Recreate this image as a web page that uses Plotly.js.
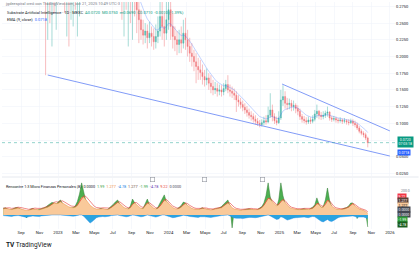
<!DOCTYPE html>
<html><head><meta charset="utf-8">
<script src="https://cdn.plot.ly/plotly-3.0.1.min.js"></script>
<style>html,body{margin:0;padding:0;background:#fff;}#chart{width:420px;height:253px;}</style>
</head><body><div id="chart"></div>
<script>
// ---------- DATA ----------
const priceStartWeek = '2022-11-21';
const priceOpen = [.330,.300,.315,.305,.330,.310,.335,.345,.330,.320,.305,.325,.300,.310,.320,.315,.330,.340,.355,.350,
.365,.380,.370,.360,.375,.390,.370,.355,.345,.360,.350,.340,.335,.345,.330,.320,.315,.300,.310,.295,
.305,.290,.300,.285,.270,.255,.240,.232,.238,.228,.235,.230,.222,.230,.238,.260,.245,.235,.255,.270,
.245,.230,.225,.218,.225,.220,.235,.225,.215,.205,.200,.192,.185,.180,.176,.170,.165,.168,.160,.155,
.150,.152,.148,.150,.147,.152,.158,.150,.148,.145,.142,.135,.132,.128,.124,.120,.116,.112,.110,.106,
.103,.100,.098,.101,.104,.102,.112,.120,.110,.104,.101,.108,.135,.140,.130,.128,.130,.125,.127,.122,
.118,.110,.106,.104,.102,.105,.103,.106,.114,.118,.112,.110,.112,.115,.117,.108,.106,.107,.105,.104,
.105,.103,.104,.102,.101,.103,.100,.098,.093,.088,.085,.083,.078];
const priceHigh = [.380,.340,.345,.360,.370,.360,.380,.375,.360,.345,.350,.345,.340,.350,.355,.360,.370,.380,.390,.395,
.410,.420,.400,.405,.430,.420,.395,.380,.390,.385,.375,.370,.375,.365,.355,.350,.340,.345,.335,.340,
.330,.335,.320,.310,.295,.270,.255,.250,.248,.252,.245,.242,.248,.260,.290,.300,.265,.295,.310,.300,
.265,.245,.238,.240,.245,.255,.258,.240,.228,.220,.210,.205,.198,.195,.188,.180,.182,.175,.172,.165,
.162,.160,.158,.157,.160,.165,.172,.158,.155,.152,.148,.142,.138,.134,.130,.126,.122,.118,.115,.112,
.108,.105,.106,.110,.112,.125,.145,.128,.115,.110,.118,.150,.157,.148,.138,.137,.135,.134,.130,.127,
.122,.114,.111,.109,.110,.109,.112,.120,.128,.120,.117,.118,.119,.125,.118,.111,.111,.110,.108,.109,
.107,.108,.106,.106,.107,.106,.104,.101,.096,.091,.088,.086,.080];
const priceLow = [.172,.225,.250,.215,.265,.240,.300,.295,.290,.265,.230,.215,.255,.245,.270,.230,.260,.310,.320,.325,
.340,.345,.330,.335,.350,.340,.325,.315,.320,.315,.305,.300,.305,.295,.292,.288,.255,.230,.270,.215,
.250,.225,.260,.235,.220,.225,.218,.220,.212,.220,.215,.210,.212,.220,.230,.225,.215,.225,.240,.225,
.212,.208,.202,.205,.205,.212,.210,.200,.192,.185,.178,.160,.165,.165,.158,.155,.157,.150,.145,.142,
.144,.140,.142,.140,.142,.148,.145,.140,.138,.135,.117,.125,.122,.118,.114,.110,.107,.104,.101,.098,
.096,.094,.095,.097,.098,.100,.108,.103,.099,.097,.099,.105,.126,.122,.120,.121,.118,.119,.115,.112,
.105,.101,.100,.098,.099,.099,.100,.103,.108,.106,.105,.106,.108,.110,.104,.102,.103,.101,.100,.101,
.099,.100,.098,.097,.099,.096,.094,.090,.085,.082,.079,.075,.064];
const priceClose = [.300,.315,.305,.330,.310,.335,.345,.330,.320,.305,.325,.300,.310,.320,.315,.330,.340,.355,.350,.365,
.380,.370,.360,.375,.390,.370,.355,.345,.360,.350,.340,.335,.345,.330,.320,.315,.300,.310,.295,.305,
.290,.300,.285,.270,.255,.240,.232,.238,.228,.235,.230,.222,.230,.238,.260,.245,.235,.255,.270,.245,
.230,.225,.218,.225,.220,.235,.225,.215,.205,.200,.192,.185,.180,.176,.170,.165,.168,.160,.155,.150,
.152,.148,.150,.147,.152,.158,.150,.148,.145,.142,.135,.132,.128,.124,.120,.116,.112,.110,.106,.103,
.100,.098,.101,.104,.102,.112,.120,.110,.104,.101,.108,.135,.140,.130,.128,.130,.125,.127,.122,.118,
.110,.106,.104,.102,.105,.103,.106,.114,.118,.112,.110,.112,.115,.117,.108,.106,.107,.105,.104,.105,
.103,.104,.102,.101,.103,.100,.098,.093,.088,.085,.083,.078,.071];

const oscStartWeek = '2022-07-04';
const oscGreen = [2.2,2.4,2.0,1.7,1.8,2.3,2.5,2.4,1.9,1.6,1.4,
-1.0,1.4,2.0,2.2,1.7,1.6,1.8,2.2,2.4,2.6,
3.2,3.6,4.2,4.0,3.6,4.4,5.0,3.8,3.0,2.6,
2.4,2.2,2.5,3.0,4.5,7.0,10.7,7.2,4.6,3.2,
2.4,2.0,1.8,1.8,1.9,2.2,2.0,1.7,1.7,2.3,
2.8,3.6,4.4,5.0,3.6,2.6,2.2,1.9,2.0,3.0,
5.3,4.2,2.8,2.2,1.9,2.2,4.0,5.3,3.4,2.4,
1.8,1.9,2.6,4.0,5.6,6.7,4.4,3.2,2.4,2.0,
1.8,1.9,2.6,3.2,4.3,4.0,2.8,2.2,1.9,1.8,
1.7,1.6,2.1,2.4,1.9,1.7,1.6,1.5,1.8,2.1,
2.2,2.4,2.8,3.6,4.4,5.0,3.0,-4.3,1.6,1.5,
1.5,1.4,1.6,1.8,2.0,2.1,1.8,1.6,1.5,1.8,
2.2,2.8,4.0,6.5,10.7,6.0,4.0,3.2,2.6,5.0,
10.7,6.4,3.8,2.8,2.2,1.9,1.8,1.7,1.6,1.7,
2.0,2.1,1.8,1.6,2.2,2.6,3.4,5.7,3.6,2.4,
2.8,5.0,9.0,4.8,2.6,-1.5,1.8,1.7,1.6,2.0,
2.2,2.5,3.0,4.0,4.0,2.4,-1.2,1.8,1.5,1.2,0.8,-4.0];
const oscOrange = [2.0,2.2,2.1,1.9,1.8,2.0,2.2,2.3,2.1,1.9,1.7,
1.5,1.6,1.8,2.0,1.9,1.8,1.7,1.9,2.1,2.3,
2.6,3.0,3.6,4.0,3.8,3.9,4.4,4.0,3.4,3.0,
2.7,2.5,2.4,2.6,3.2,4.5,5.8,6.0,5.2,4.2,
3.2,2.6,2.2,2.0,1.9,2.0,2.1,1.9,1.8,2.0,
2.4,3.0,3.6,4.2,3.8,3.0,2.5,2.2,2.0,2.4,
3.6,4.0,3.4,2.6,2.2,2.1,3.2,4.0,3.6,2.8,
2.3,2.0,2.2,3.0,4.2,5.0,4.6,3.8,3.0,2.5,
2.1,2.0,2.2,2.6,3.4,3.8,3.2,2.6,2.2,2.0,
1.9,1.8,2.0,2.2,2.1,1.9,1.8,1.7,1.8,2.0,
2.1,2.2,2.4,3.0,3.6,4.0,3.4,2.4,2.0,1.8,
1.7,1.6,1.7,1.8,1.9,2.0,1.9,1.8,1.7,1.8,
2.0,2.4,3.2,4.4,5.6,5.2,4.4,3.6,3.0,3.4,
4.6,5.0,4.2,3.2,2.6,2.2,2.0,1.9,1.8,1.8,
1.9,2.0,1.9,1.8,2.0,2.2,2.8,3.8,3.4,2.6,
2.6,3.6,5.0,4.2,3.0,2.4,2.0,1.9,1.8,1.9,
2.0,2.2,2.6,3.4,3.8,3.0,2.4,2.0,1.8,1.6,1.2,0.6];
const oscRed = [2.3,2.4,2.5,2.4,2.2,2.2,2.4,2.6,2.6,2.4,2.2,
2.0,1.9,2.0,2.2,2.3,2.2,2.1,2.2,2.4,2.6,
2.8,3.2,3.6,4.2,4.4,4.3,4.6,4.7,4.3,3.8,
3.4,3.0,2.9,2.9,3.3,4.3,5.6,6.4,6.2,5.4,
4.4,3.5,2.9,2.5,2.3,2.3,2.4,2.3,2.2,2.3,
2.6,3.1,3.7,4.3,4.4,3.8,3.1,2.7,2.4,2.6,
3.5,4.2,4.1,3.4,2.8,2.5,3.1,4.0,4.1,3.5,
2.8,2.4,2.4,3.0,4.0,5.0,5.2,4.6,3.7,3.0,
2.6,2.3,2.4,2.8,3.4,4.0,3.8,3.2,2.7,2.4,
2.2,2.1,2.2,2.4,2.4,2.3,2.1,2.0,2.0,2.2,
2.3,2.4,2.6,3.1,3.7,4.2,4.0,3.2,2.6,2.2,
2.0,1.9,1.9,2.0,2.1,2.2,2.2,2.1,2.0,2.0,
2.2,2.6,3.3,4.3,5.5,5.6,5.0,4.2,3.5,3.6,
4.5,5.2,4.8,3.9,3.1,2.6,2.3,2.2,2.1,2.0,
2.1,2.2,2.2,2.1,2.2,2.4,2.9,3.8,3.8,3.1,
2.9,3.5,4.8,4.7,3.7,2.9,2.4,2.2,2.1,2.1,
2.2,2.4,2.7,3.3,3.8,3.5,2.9,2.4,2.1,1.9,1.6,1.1];
const oscBlue = [-0.2,-0.3,-0.2,-0.4,-0.5,-0.3,-0.2,-0.2,-0.3,-0.4,-0.5,
-0.8,-0.6,-0.4,-0.3,-0.4,-0.5,-0.5,-0.3,-0.2,-0.2,
-0.1,-0.1,0,0,-0.1,0,0,-0.1,-0.2,-0.3,
-0.4,-0.5,-0.4,-0.3,-0.1,0,0,-0.4,-1.2,-2.0,
-2.7,-2.2,-1.4,-0.9,-0.7,-0.5,-0.5,-0.6,-0.6,-0.4,
-0.2,-0.1,0,0,-0.2,-0.4,-0.5,-0.6,-0.5,-0.3,
0,-0.1,-0.3,-0.5,-0.6,-0.5,-0.2,0,-0.2,-0.4,
-0.6,-0.7,-0.5,-0.2,0,0,-0.2,-0.5,-0.8,-0.9,
-0.8,-0.7,-0.5,-0.3,-0.1,-0.1,-0.3,-0.5,-0.6,-0.7,
-0.7,-0.8,-0.6,-0.5,-0.6,-0.7,-0.8,-0.8,-0.7,-0.5,
-0.4,-0.3,-0.2,-0.1,0,0,-0.3,-0.8,-1.0,-1.1,
-1.0,-1.1,-1.2,-1.0,-0.9,-0.8,-0.8,-0.9,-0.9,-0.8,
-0.6,-0.4,-0.2,0,0,-0.3,-0.8,-1.2,-1.5,-1.3,
-0.6,-0.8,-1.3,-1.7,-1.5,-1.2,-1.0,-0.9,-0.8,-0.8,
-0.7,-0.7,-0.8,-0.9,-0.7,-0.5,-0.6,-1.2,-1.8,-2.1,
-2.3,-1.9,-1.5,-2.0,-2.2,-1.8,-1.2,-0.9,-0.7,-0.6,
-0.5,-0.4,-0.3,-0.2,-0.3,-0.5,-0.8,-0.7,-0.6,-0.7,-0.9,-1.2];

const lowerTrendDates = ['2022-11-28','2026-01-01'];
const lowerTrendPrices = [0.1723, 0.0510];
const upperTrendDates = ['2025-01-10','2026-01-01'];
const upperTrendPrices = [0.1588, 0.0886];

const monthTickDates = ['2022-09-01','2022-11-01','2023-01-01','2023-03-01','2023-05-01','2023-07-01','2023-09-01','2023-11-01',
'2024-01-01','2024-03-01','2024-05-01','2024-07-01','2024-09-01','2024-11-01','2025-01-01','2025-03-01','2025-05-01',
'2025-07-01','2025-09-01','2025-11-01','2026-01-01'];
const monthTickLabels = ['Sep','Nov','2023','Mar','Mayo','Jul','Sep','Nov','2024','Mar','Mayo','Jul','Sep','Nov','2025','Mar','Mayo','Jul','Sep','Nov','2026'];
const priceTickVals = [0.025,0.05,0.075,0.1,0.125,0.15,0.175,0.2,0.225,0.25,0.275];
// 0.0750 is hidden behind the last-price label in the reference
const priceTickLabels = ['0.0250','0.0500','','0.1000','0.1250','0.1500','0.1750','0.2000','0.2250','0.2500','0.2750'];

// ---------- helpers ----------
function weekly(start, n){
  const d0 = new Date(start + 'T00:00:00Z').getTime();
  return Array.from({length:n}, (_, i) => new Date(d0 + i*7*864e5).toISOString().slice(0,10));
}
function ema(vals, n){
  const k = 2/(n+1); let prev = vals[0];
  return vals.map((v,i) => (prev = i === 0 ? v : v*k + prev*(1-k)));
}
const priceDates = weekly(priceStartWeek, priceClose.length);
const oscDates = weekly(oscStartWeek, oscGreen.length);
const emaVals = ema(priceClose, 9);
const lastClose = priceClose[priceClose.length-1];

// pixel -> paper helpers (plot area x 2..395, y 2..229)
const PX = px => (px - 2) / 393;
const PY = py => (229 - py) / 227;

const FONT = 'Roboto, "Liberation Sans", sans-serif';
const traces = [
  {type:'candlestick', x:priceDates, open:priceOpen, high:priceHigh, low:priceLow, close:priceClose,
   xaxis:'x', yaxis:'y', whiskerwidth:0,
   increasing:{line:{color:'#4db6ac', width:0.5}, fillcolor:'#4db6ac'},
   decreasing:{line:{color:'#f07a7e', width:0.5}, fillcolor:'#f07a7e'},
   hoverinfo:'skip', showlegend:false},
  {type:'scatter', mode:'lines', x:priceDates, y:emaVals, xaxis:'x', yaxis:'y',
   line:{color:'rgba(41,98,255,0.55)', width:0.5}, hoverinfo:'skip', showlegend:false},
  {type:'scatter', mode:'lines', x:lowerTrendDates, y:lowerTrendPrices, xaxis:'x', yaxis:'y',
   line:{color:'#7390f6', width:0.9}, hoverinfo:'skip', showlegend:false},
  {type:'scatter', mode:'lines', x:upperTrendDates, y:upperTrendPrices, xaxis:'x', yaxis:'y',
   line:{color:'#7390f6', width:0.9}, hoverinfo:'skip', showlegend:false},
  {type:'scatter', mode:'lines', x:oscDates, y:oscGreen, xaxis:'x', yaxis:'y2', fill:'tozeroy',
   fillcolor:'#4caf50', line:{color:'#2e7d32', width:0.5}, hoverinfo:'skip', showlegend:false},
  {type:'scatter', mode:'lines', x:oscDates, y:oscOrange, xaxis:'x', yaxis:'y2', fill:'tozeroy',
   fillcolor:'#f9c99a', line:{color:'#ef8a3a', width:0.5}, hoverinfo:'skip', showlegend:false},
  {type:'scatter', mode:'lines', x:oscDates, y:oscBlue, xaxis:'x', yaxis:'y2', fill:'tozeroy',
   fillcolor:'#2aa3e0', line:{color:'#1e88e5', width:0.4}, hoverinfo:'skip', showlegend:false},
  {type:'scatter', mode:'lines', x:oscDates, y:oscRed, xaxis:'x', yaxis:'y2',
   line:{color:'#e53935', width:0.6}, hoverinfo:'skip', showlegend:false}
];

function lab(px, py, text, opts){
  return Object.assign({xref:'paper', yref:'paper', x:PX(px), y:PY(py), text:text, showarrow:false,
    xanchor:'left', yanchor:'middle', font:{family:FONT, size:4.2, color:'#787b86'}}, opts||{});
}
function box(py, text, bg, fg){
  return lab(397.5, py, text, {bgcolor:bg, borderpad:0.5, font:{family:FONT, size:3.5, color:fg||'#ffffff'}});
}
function icon(px){
  return lab(px, 179, ' ', {xanchor:'center', width:3, height:3, bordercolor:'#9598a1', borderwidth:0.6, borderpad:0.3, font:{family:FONT,size:2}});
}

const annotations = [
  lab(3, 4, 'jgdeespiral creó con TradingView.com, oct 21, 2025 10:49 UTC-3', {font:{family:FONT,size:4,color:'#787b86'}}),
  lab(5, 12, 'Substrate Artificial Intelligence · 1D · MEXC  <span style="color:#089981">A0.0720  M0.0750  m0.0690  C0.0710  -0.0010 (-1.39%)</span>', {font:{family:FONT,size:4,color:'#131722'}}),
  lab(5, 19.5, 'EMA (9, close)  <span style="color:#2962ff">0.0718</span>', {font:{family:FONT,size:4,color:'#131722'}}),
  lab(4, 186, 'Rencontre 1:3 Micro Finanzas Personales (8)  0.0000  <span style="color:#2e9e3a">1.99</span>  <span style="color:#ef8a3a">1.277</span>  <span style="color:#1e88e5">-4.78</span>  <span style="color:#6d4c41">1.277</span>  <span style="color:#2e9e3a">-1.99</span>  <span style="color:#5e35b1">-4.78</span>  <span style="color:#e53935">9.22</span>  <span style="color:#434651">0.0000</span>', {font:{family:FONT,size:3.8,color:'#131722'}}),
  box(141.5, '0.0720<br>07:03:18', '#089981'),
  box(152.5, '0.0718', '#2962ff'),
  lab(399, 191, '200.0', {font:{family:FONT,size:3.5,color:'#787b86'}}),
  box(196, '9.22', '#f23645'),
  box(200.5, '1.277', '#5d4037'),
  box(205, '1.277', '#f9c99a', '#131722'),
  box(209.5, '0.0000', '#434651'),
  box(214, '0.0000', '#434651'),
  box(219, '-1.99', '#2e9e3a'),
  box(224, '-4.78', '#1b5e20'),
  icon(152), icon(204), icon(262),
  lab(4, 244.5, '<b>TV</b> TradingView', {font:{family:FONT,size:6.5,color:'#131722'}})
];

const shapes = [
  {type:'line', xref:'paper', yref:'y', x0:0, x1:1, y0:lastClose, y1:lastClose,
   line:{color:'#26a69a', width:0.5, dash:'dot'}},
  {type:'line', xref:'paper', yref:'paper', x0:0, x1:1.06, y0:PY(177), y1:PY(177),
   line:{color:'#e0e3eb', width:0.8}}
];

const layout = {
  width:420, height:253,
  margin:{l:2, r:25, t:2, b:24, pad:0},
  paper_bgcolor:'#ffffff', plot_bgcolor:'#ffffff',
  showlegend:false,
  font:{family:FONT, size:4.2, color:'#131722'},
  xaxis:{type:'date', range:['2022-06-30','2026-01-18'], anchor:'y2',
    tickmode:'array', tickvals:monthTickDates, ticktext:monthTickLabels,
    tickfont:{family:FONT, size:4.2, color:'#131722'}, ticks:'', showline:false,
    showgrid:true, gridcolor:'#f0f3fa', gridwidth:0.6, zeroline:false,
    rangeslider:{visible:false}, fixedrange:true},
  yaxis:{domain:[PY(176), 1], range:[0.0211, 0.2816], side:'right',
    tickmode:'array', tickvals:priceTickVals, ticktext:priceTickLabels,
    tickfont:{family:FONT, size:4, color:'#131722'}, ticks:'', showline:false,
    showgrid:true, gridcolor:'#f0f3fa', gridwidth:0.6, zeroline:false, fixedrange:true},
  yaxis2:{domain:[0, PY(178)], range:[-4.67, 12.33], side:'right',
    showticklabels:false, ticks:'', showline:false, showgrid:false, zeroline:false, fixedrange:true},
  annotations:annotations,
  shapes:shapes
};

Plotly.newPlot('chart', traces, layout, {displayModeBar:false, staticPlot:true});
</script>
</body></html>
